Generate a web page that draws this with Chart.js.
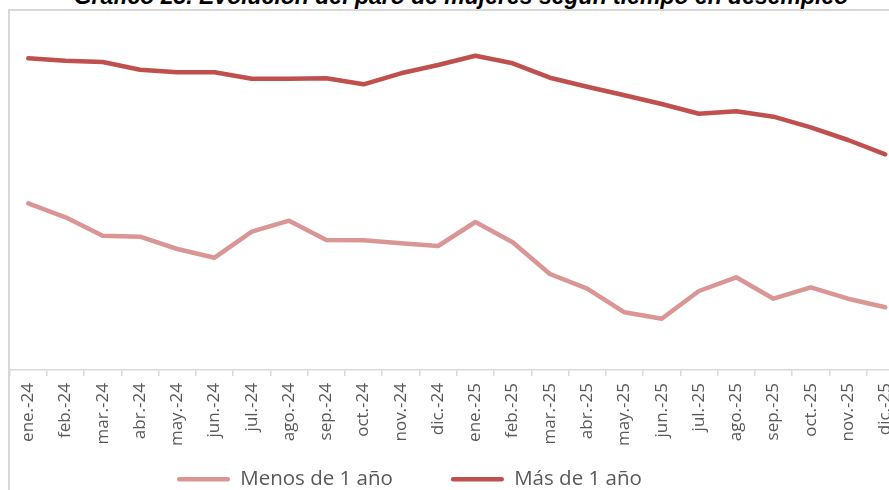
<!DOCTYPE html>
<html>
<head>
<meta charset="utf-8">
<script src="https://cdn.jsdelivr.net/npm/chart.js@4.4.1/dist/chart.umd.min.js"></script>
<style>
  html, body { margin: 0; padding: 0; background: #ffffff; width: 889px; height: 490px; overflow: hidden; }
  #frame { position: absolute; left: 8px; top: 9px; width: 1000px; height: 1000px; border-left: 2px solid #d9d9d9; border-top: 2px solid #d9d9d9; box-sizing: border-box; }
  #title { position: absolute; left: 3px; top: -15.5px; width: 916px; text-align: center; font: italic bold 23px "Liberation Sans", Arial, sans-serif; line-height: 23px; color: #000; white-space: nowrap; }
  #wrap { position: absolute; left: 0; top: 0; width: 920px; height: 490px; }
</style>
</head>
<body>
<div id="frame"></div>
<div id="title">Gráfico 23. Evolución del paro de mujeres según tiempo en desempleo</div>
<div id="wrap"><canvas id="c" width="920" height="490"></canvas></div>
<script>
const categories = ['ene.-24','feb.-24','mar.-24','abr.-24','may.-24','jun.-24','jul.-24','ago.-24','sep.-24','oct.-24','nov.-24','dic.-24',
                    'ene.-25','feb.-25','mar.-25','abr.-25','may.-25','jun.-25','jul.-25','ago.-25','sep.-25','oct.-25','nov.-25','dic.-25'];
const seriesNames = ['Menos de 1 año', 'Más de 1 año'];
const menosDe1Anio = [166.7,152.7,134.3,133.3,121.0,112.3,138.3,149.3,130.0,129.7,126.7,124.0,
                      148.0,127.7,96.0,81.3,57.7,51.3,79.0,92.7,71.3,82.7,71.3,62.7];
const masDe1Anio = [311.7,309.3,308.0,300.3,297.7,297.7,291.3,291.3,291.7,285.7,296.7,305.0,
                    314.3,306.7,292.3,283.3,274.7,266.0,256.3,258.7,253.3,242.7,230.0,215.7];

const legendPlace = {
  id: 'legendPlace',
  afterLayout(chart) {
    const l = chart.legend;
    if (!l) return;
    const pad = l.options.labels.padding;
    const w = l.right - l.left;
    l.left = 177 - pad;
    l.right = l.left + w;
    l.top = 469 - pad;
    l.bottom = l.top + pad + 60;
  }
};

new Chart(document.getElementById('c'), {
  type: 'line',
  data: {
    labels: categories,
    datasets: [
      { label: seriesNames[0], data: menosDe1Anio, borderColor: '#d99694', backgroundColor: '#d99694',
        borderWidth: 4.5, pointRadius: 0, tension: 0, borderCapStyle: 'round', borderJoinStyle: 'round' },
      { label: seriesNames[1], data: masDe1Anio, borderColor: '#c0504d', backgroundColor: '#c0504d',
        borderWidth: 4.5, pointRadius: 0, tension: 0, borderCapStyle: 'round', borderJoinStyle: 'round' }
    ]
  },
  options: {
    responsive: false,
    animation: false,
    devicePixelRatio: 1,
    layout: { padding: { left: 9.6, right: 16.1, top: 10, bottom: 0 } },
    plugins: {
      title: { display: false },
      tooltip: { enabled: false },
      legend: {
        position: 'bottom',
        align: 'start',
        maxHeight: 30,
        labels: {
          boxWidth: 53,
          boxHeight: 4.5,
          padding: 58,
          color: '#595959',
          font: { family: '"Open Sans", sans-serif', size: 20.5 },
          generateLabels(chart) {
            const items = Chart.defaults.plugins.legend.labels.generateLabels(chart);
            items.forEach(it => { it.fillStyle = it.strokeStyle; it.lineWidth = 0; it.borderRadius = 2; });
            return items;
          }
        }
      }
    },
    scales: {
      x: {
        type: 'category',
        offset: true,
        afterFit(scale) { scale.height = 90; },
        grid: { display: true, drawOnChartArea: false, drawTicks: true, tickLength: 6, offset: true, color: '#d9d9d9', lineWidth: 1.5 },
        border: { display: true, color: '#d9d9d9', width: 1.5 },
        ticks: {
          autoSkip: false, minRotation: 90, maxRotation: 90, padding: 7,
          color: '#595959', font: { family: '"Open Sans", sans-serif', size: 17 }
        }
      },
      y: {
        display: false,
        min: 0,
        max: 360
      }
    }
  },
  plugins: [legendPlace]
});
</script>
</body>
</html>
